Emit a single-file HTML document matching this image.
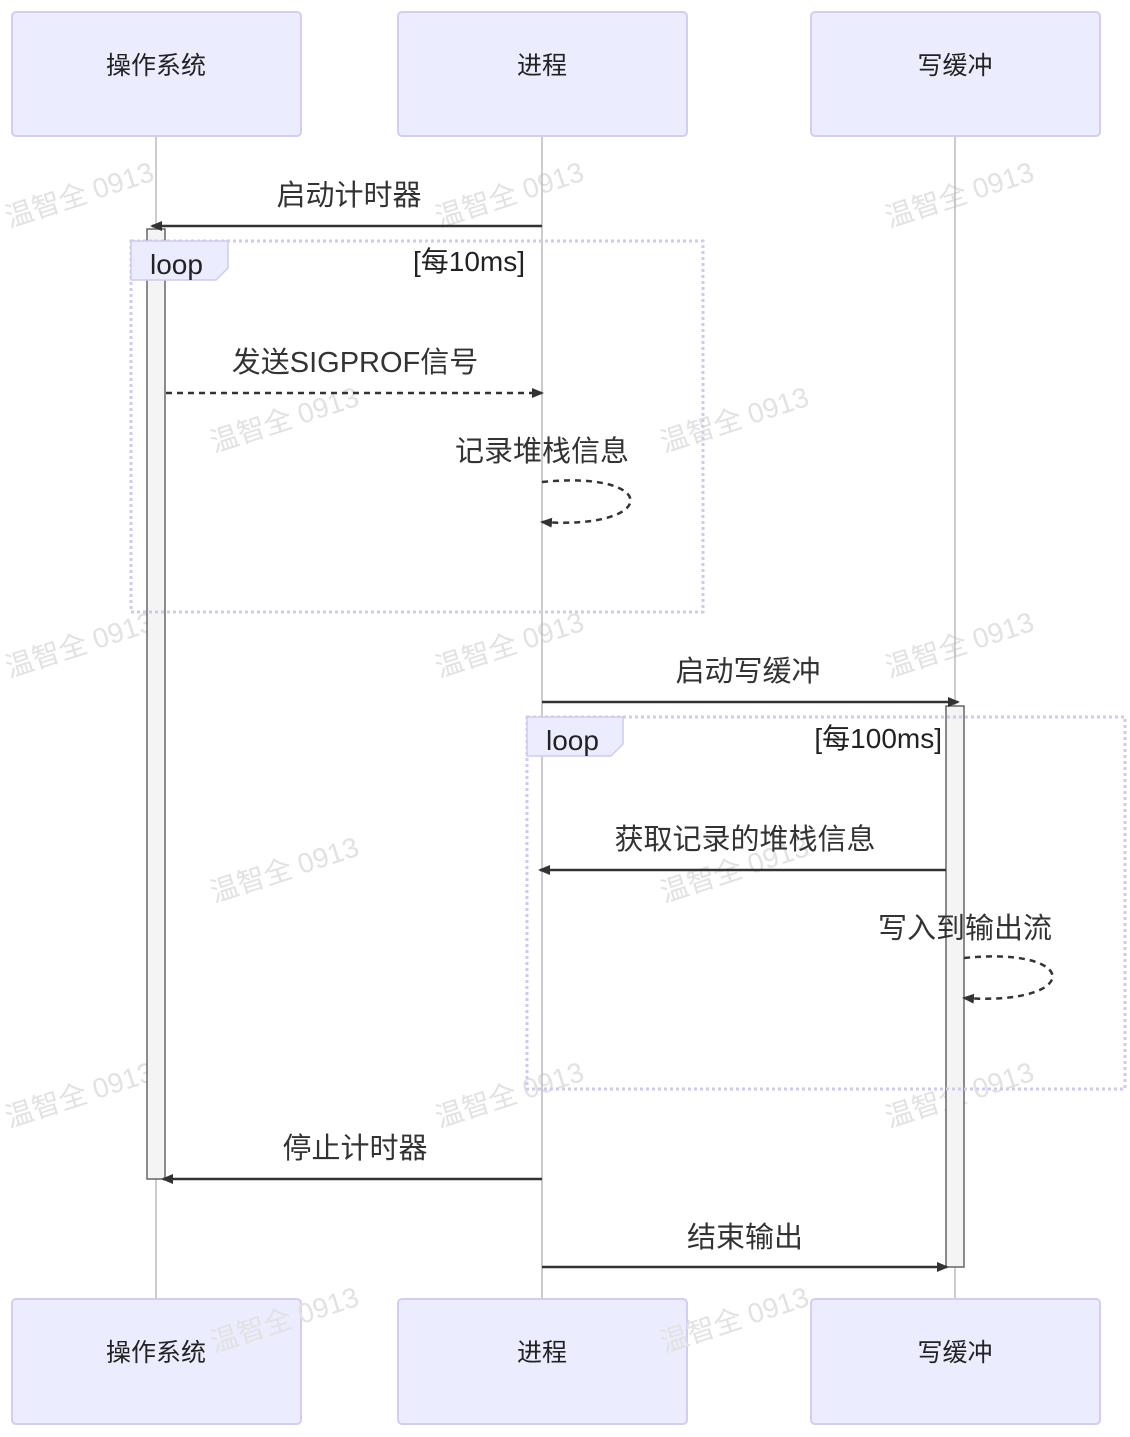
<!DOCTYPE html>
<html><head><meta charset="utf-8"><style>
html,body{margin:0;padding:0;background:#fff;}
svg text{font-family:"Liberation Sans","Noto Sans CJK SC",sans-serif;}
</style></head><body>
<svg width="1130" height="1432" viewBox="0 0 1130 1432" xmlns="http://www.w3.org/2000/svg">
<defs>
<marker id="ah" markerWidth="12" markerHeight="12" refX="10" refY="5" orient="auto" markerUnits="userSpaceOnUse">
<path d="M0,0 L12,5 L0,10 z" fill="#333"/></marker>
</defs>
<g fill="#e2e2e2" font-size="28">
<text x="0" y="210" transform="rotate(-18 60 190)">温智全 0913</text>
<text x="430" y="210" transform="rotate(-18 490 190)">温智全 0913</text>
<text x="880" y="210" transform="rotate(-18 940 190)">温智全 0913</text>
<text x="205" y="435" transform="rotate(-18 265 415)">温智全 0913</text>
<text x="655" y="435" transform="rotate(-18 715 415)">温智全 0913</text>
<text x="0" y="660" transform="rotate(-18 60 640)">温智全 0913</text>
<text x="430" y="660" transform="rotate(-18 490 640)">温智全 0913</text>
<text x="880" y="660" transform="rotate(-18 940 640)">温智全 0913</text>
<text x="205" y="885" transform="rotate(-18 265 865)">温智全 0913</text>
<text x="655" y="885" transform="rotate(-18 715 865)">温智全 0913</text>
<text x="0" y="1110" transform="rotate(-18 60 1090)">温智全 0913</text>
<text x="430" y="1110" transform="rotate(-18 490 1090)">温智全 0913</text>
<text x="880" y="1110" transform="rotate(-18 940 1090)">温智全 0913</text>
</g>
<g stroke="#bbb" stroke-width="1.5">
<line x1="156" y1="136" x2="156" y2="1299"/>
<line x1="542" y1="136" x2="542" y2="1299"/>
<line x1="955" y1="136" x2="955" y2="1299"/>
</g>
<g fill="#ececff" stroke="#d4ccf4" stroke-width="2">
<rect x="12" y="12" width="289" height="124" rx="4"/>
<rect x="398" y="12" width="289" height="124" rx="4"/>
<rect x="811" y="12" width="289" height="124" rx="4"/>
<rect x="12" y="1299" width="289" height="125" rx="4"/>
<rect x="398" y="1299" width="289" height="125" rx="4"/>
<rect x="811" y="1299" width="289" height="125" rx="4"/>
</g>
<g fill="#e2e2e2" font-size="28">
<text x="205" y="1335" transform="rotate(-18 265 1315)">温智全 0913</text>
<text x="655" y="1335" transform="rotate(-18 715 1315)">温智全 0913</text>
</g>
<g font-size="25" fill="#222" text-anchor="middle">
<text x="156" y="74">操作系统</text><text x="542" y="74">进程</text><text x="955" y="74">写缓冲</text>
<text x="156" y="1361">操作系统</text><text x="542" y="1361">进程</text><text x="955" y="1361">写缓冲</text>
</g>
<rect x="147" y="229" width="18" height="950" fill="#f4f4f4" stroke="#666" stroke-width="1.5"/>
<rect x="946" y="706" width="18" height="561" fill="#f4f4f4" stroke="#666" stroke-width="1.5"/>
<g fill="none" stroke="#cfcaf0" stroke-width="3" stroke-dasharray="3,3">
<rect x="131" y="241" width="572" height="371"/>
<rect x="527" y="717" width="598" height="372"/>
</g>
<path d="M131,241 H228 V268 L216,280 H131 Z" fill="#ececff" stroke="#cfcaf0" stroke-width="1.5"/>
<path d="M527,717 H623 V744 L611,756 H527 Z" fill="#ececff" stroke="#cfcaf0" stroke-width="1.5"/>
<g font-size="28" fill="#222">
<text x="150" y="274">loop</text>
<text x="525" y="271" text-anchor="end">[每10ms]</text>
<text x="546" y="750">loop</text>
<text x="942" y="748" text-anchor="end">[每100ms]</text>
</g>
<g font-size="29" fill="#333" text-anchor="middle">
<text x="349" y="205">启动计时器</text>
<text x="355" y="372">发送SIGPROF信号</text>
<text x="542" y="461">记录堆栈信息</text>
<text x="748" y="681">启动写缓冲</text>
<text x="745" y="849">获取记录的堆栈信息</text>
<text x="965" y="938">写入到输出流</text>
<text x="355" y="1158">停止计时器</text>
<text x="745" y="1247">结束输出</text>
</g>
<g stroke="#333" stroke-width="2.5" fill="none">
<line x1="542" y1="226" x2="152" y2="226" marker-end="url(#ah)"/>
<line x1="166" y1="393" x2="542" y2="393" stroke-dasharray="6,5" marker-end="url(#ah)"/>
<path d="M542,482 C660,470 660,530 542,522" stroke-dasharray="6,5" marker-end="url(#ah)"/>
<line x1="542" y1="702" x2="958" y2="702" marker-end="url(#ah)"/>
<line x1="946" y1="870" x2="540" y2="870" marker-end="url(#ah)"/>
<path d="M964,958 C1082,946 1082,1006 964,998" stroke-dasharray="6,5" marker-end="url(#ah)"/>
<line x1="542" y1="1179" x2="163" y2="1179" marker-end="url(#ah)"/>
<line x1="542" y1="1267" x2="947" y2="1267" marker-end="url(#ah)"/>
</g>
</svg>
</body></html>
